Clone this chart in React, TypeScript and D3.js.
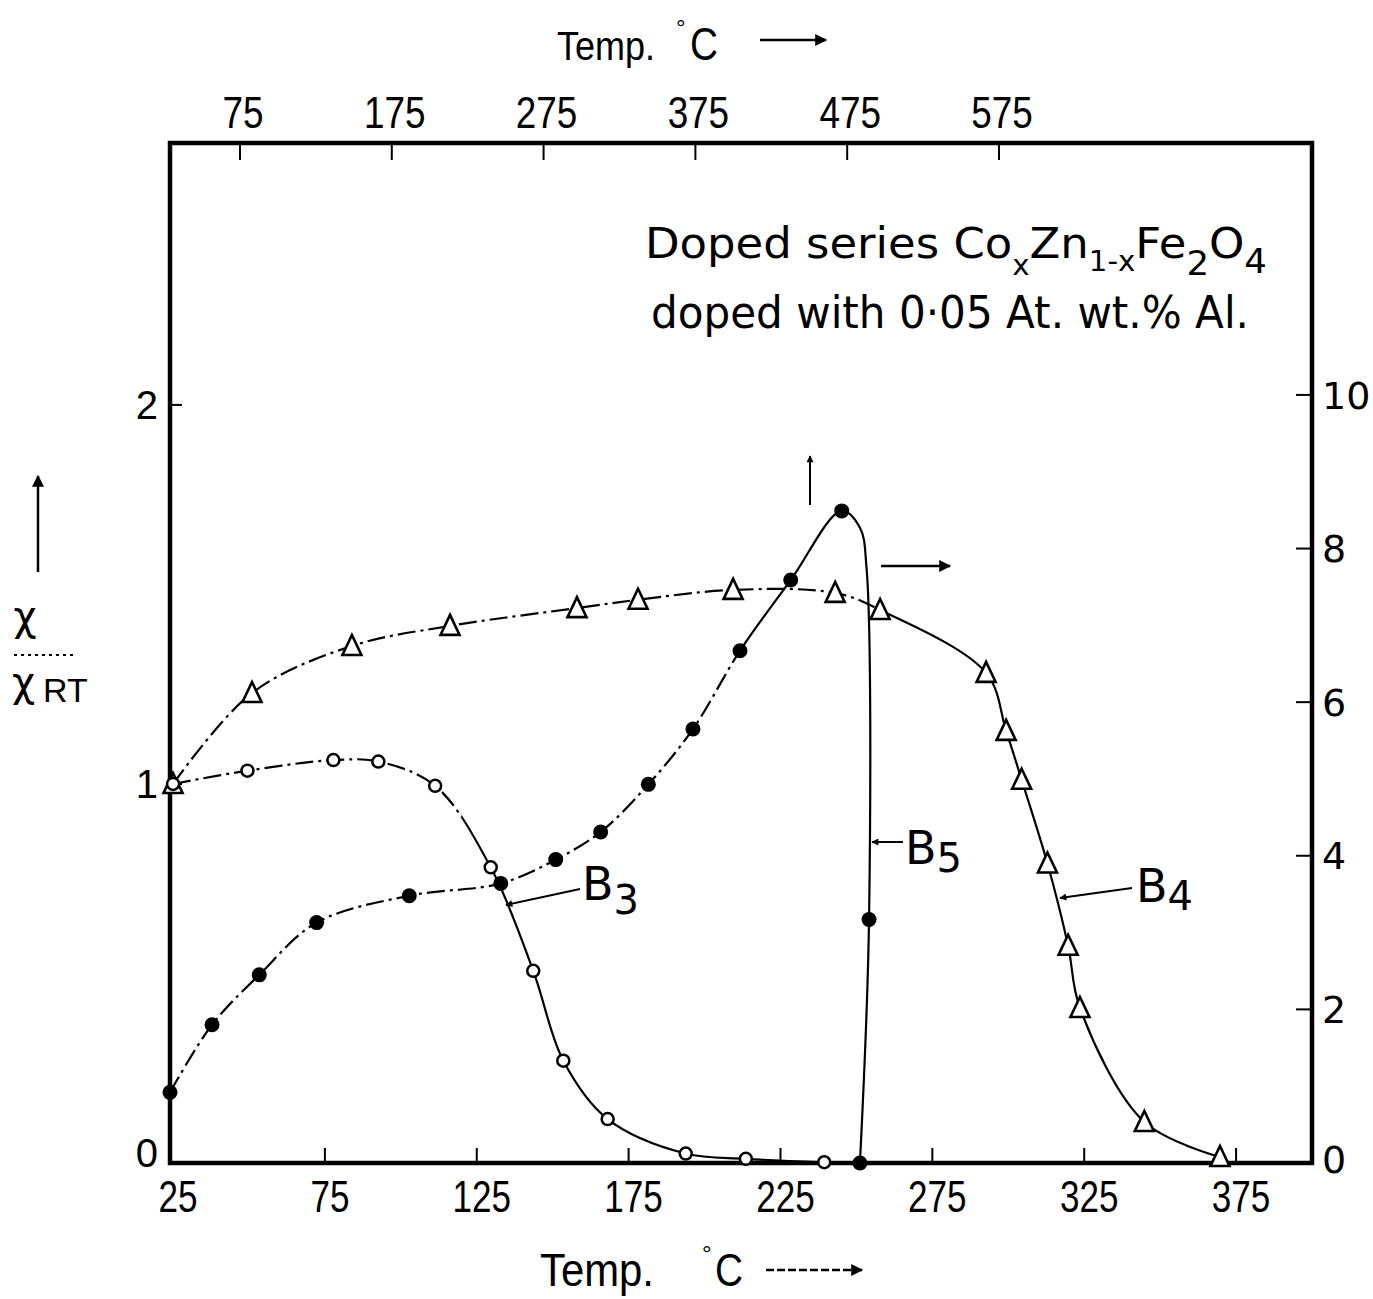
import React, { useRef, useEffect } from 'react';
import * as d3 from 'd3';

// B3 (open circles): bottom temperature axis, left chi/chiRT axis
const b3Temp = [25, 49.5, 77.8, 92.6, 111.3, 129.6, 143.6, 153.5, 168.1, 193.8, 213.6, 239.4];
const b3Chi = [1.0, 1.035, 1.063, 1.059, 0.995, 0.78, 0.507, 0.27, 0.116, 0.025, 0.011, 0.002];

// B4 (triangles): bottom / left
const b4Temp = [25, 51.0, 83.9, 116.2, 158.0, 178.1, 209.4, 243.0, 257.8, 292.7, 299.3, 304.4, 312.9, 319.7, 323.6, 344.8, 369.7];
const b4Chi = [1.0, 1.24, 1.364, 1.417, 1.464, 1.486, 1.512, 1.504, 1.459, 1.293, 1.14, 1.011, 0.79, 0.573, 0.409, 0.108, 0.016];

// B5 (filled circles): top temperature axis, right axis
const b5Temp = [28.9, 56.6, 87.7, 125.5, 186.5, 246.8, 283, 312.6, 344, 373.4, 404.4, 437.8, 471.4, 489.4, 483.4];
const b5Chi = [0.92, 1.8, 2.45, 3.13, 3.48, 3.64, 3.95, 4.31, 4.93, 5.65, 6.67, 7.59, 8.49, 3.17, 0];
// points read along the drawn B5 curve just after the peak (no marker)
const b5KneeTemp = [483.4, 487.7];
const b5KneeChi = [8.27, 7.76];

const bottomTicks = [25, 75, 125, 175, 225, 275, 325, 375];
const topTicks = [75, 175, 275, 375, 475, 575];
const leftTicks = [0, 1, 2];
const rightTicks = [0, 2, 4, 6, 8, 10];

const W = 1373, H = 1299;
const L = 170, R = 1312, T = 143, B = 1163;

const NARROW = "'Liberation Sans', Arial, sans-serif";
const ROUND = "'DejaVu Sans', 'Noto Sans', sans-serif";

export default function App() {
  const svgRef = useRef<SVGSVGElement>(null);

  useEffect(() => {
    const svg = d3.select(svgRef.current);
    svg.selectAll('*').remove();

    const xB = d3.scaleLinear().domain([24, 400]).range([L, R]);
    const xT = d3.scaleLinear().domain([28.9, 781.2]).range([L, R]);
    const yL = d3.scaleLinear().domain([0, 2.691]).range([B, T]);
    const yR = d3.scaleLinear().domain([0, 13.28]).range([B, T]);

    const defs = svg.append('defs');
    defs.append('marker')
      .attr('id', 'head')
      .attr('viewBox', '0 0 10 10')
      .attr('refX', 9).attr('refY', 5)
      .attr('markerWidth', 8).attr('markerHeight', 7)
      .attr('markerUnits', 'userSpaceOnUse')
      .attr('orient', 'auto')
      .append('path').attr('d', 'M0,0 L10,5 L0,10 Z').attr('fill', '#000');
    defs.append('marker')
      .attr('id', 'headBig')
      .attr('viewBox', '0 0 10 10')
      .attr('refX', 9).attr('refY', 5)
      .attr('markerWidth', 17).attr('markerHeight', 12)
      .attr('markerUnits', 'userSpaceOnUse')
      .attr('orient', 'auto')
      .append('path').attr('d', 'M0,0 L10,5 L0,10 Z').attr('fill', '#000');

    // clip halves for dash-dot / solid parts of each curve
    const clip = (id, x0, x1) => {
      defs.append('clipPath').attr('id', id)
        .append('rect').attr('x', x0).attr('y', 0).attr('width', x1 - x0).attr('height', H);
    };

    const line = d3.line().curve(d3.curveCatmullRom.alpha(0.5));

    const b3Pts = b3Temp.map((t, i) => [xB(t), yL(b3Chi[i])]);
    const b4Pts = b4Temp.map((t, i) => [xB(t), yL(b4Chi[i])]);
    const b5Pts = b5Temp.map((t, i) => [xT(t), yR(b5Chi[i])]);
    const kneePts = b5KneeTemp.map((t, i) => [xT(t), yR(b5KneeChi[i])]);
    const b5Line = [...b5Pts.slice(0, 13), ...kneePts, ...b5Pts.slice(13)];

    const curves = [
      { id: 'b3', pts: b3Pts, split: xB(120) },
      { id: 'b4', pts: b4Pts, split: xB(258) },
      { id: 'b5', pts: b5Line, split: xT(404) },
    ];

    curves.forEach(c => {
      clip(c.id + 'a', 0, c.split);
      clip(c.id + 'b', c.split, W);
      svg.append('path')
        .attr('d', line(c.pts))
        .attr('fill', 'none').attr('stroke', '#000').attr('stroke-width', 2.2)
        .attr('stroke-dasharray', '18 5 3 5')
        .attr('clip-path', `url(#${c.id}a)`);
      svg.append('path')
        .attr('d', line(c.pts))
        .attr('fill', 'none').attr('stroke', '#000').attr('stroke-width', 2.2)
        .attr('clip-path', `url(#${c.id}b)`);
    });

    // frame
    svg.append('rect')
      .attr('x', L).attr('y', T).attr('width', R - L).attr('height', B - T)
      .attr('fill', 'none').attr('stroke', '#000').attr('stroke-width', 4.5);

    const g = svg.append('g').attr('stroke', '#000').attr('stroke-width', 2);
    bottomTicks.slice(1).forEach(v => {
      g.append('line').attr('x1', xB(v)).attr('x2', xB(v)).attr('y1', B).attr('y2', B - 15);
    });
    topTicks.forEach(v => {
      g.append('line').attr('x1', xT(v)).attr('x2', xT(v)).attr('y1', T).attr('y2', T + 17);
    });
    leftTicks.slice(1).forEach(v => {
      g.append('line').attr('x1', L).attr('x2', L + 12).attr('y1', yL(v)).attr('y2', yL(v));
    });
    rightTicks.slice(1).forEach(v => {
      g.append('line').attr('x1', R).attr('x2', R - 16).attr('y1', yR(v)).attr('y2', yR(v));
    });

    // tick labels
    svg.append('g').selectAll('text').data(bottomTicks).enter().append('text')
      .attr('x', d => xB(d) + 5).attr('y', 1212)
      .attr('text-anchor', 'middle')
      .attr('textLength', d => String(d).length * 19.5)
      .attr('lengthAdjust', 'spacingAndGlyphs')
      .style('font-family', NARROW).style('font-size', '44px')
      .text(d => d);
    svg.append('g').selectAll('text').data(topTicks).enter().append('text')
      .attr('x', d => xT(d) + 3).attr('y', 128)
      .attr('text-anchor', 'middle')
      .attr('textLength', d => String(d).length * 20.5)
      .attr('lengthAdjust', 'spacingAndGlyphs')
      .style('font-family', NARROW).style('font-size', '45px')
      .text(d => d);
    svg.append('g').selectAll('text').data(leftTicks).enter().append('text')
      .attr('x', 158).attr('y', d => (d === 0 ? yL(d) - 10 : yL(d)))
      .attr('dy', '0.36em')
      .attr('text-anchor', 'end')
      .style('font-family', NARROW).style('font-size', '40px')
      .text(d => d);
    svg.append('g').selectAll('text').data(rightTicks).enter().append('text')
      .attr('x', 1322).attr('y', d => (d === 0 ? yR(d) - 4 : yR(d)))
      .attr('dy', '0.36em')
      .style('font-family', ROUND).style('font-size', '38px')
      .text(d => d);

    // markers
    svg.append('g').selectAll('path').data(b4Pts).enter().append('path')
      .attr('transform', d => `translate(${d[0]},${d[1]})`)
      .attr('d', 'M0,-11 L9.5,9 L-9.5,9 Z')
      .attr('fill', '#fff').attr('stroke', '#000').attr('stroke-width', 2.6)
      .attr('stroke-linejoin', 'miter');
    svg.append('g').selectAll('circle').data(b3Pts).enter().append('circle')
      .attr('cx', d => d[0]).attr('cy', d => d[1]).attr('r', 6)
      .attr('fill', '#fff').attr('stroke', '#000').attr('stroke-width', 2.5);
    svg.append('g').selectAll('circle').data(b5Pts).enter().append('circle')
      .attr('cx', d => d[0]).attr('cy', d => d[1]).attr('r', 7.5)
      .attr('fill', '#000');

    // annotation
    const ann = svg.append('text')
      .attr('x', 645).attr('y', 258)
      .attr('textLength', 622).attr('lengthAdjust', 'spacingAndGlyphs')
      .style('font-family', ROUND).style('font-size', '43px');
    ann.append('tspan').text('Doped series Co');
    ann.append('tspan').attr('dy', 17).style('font-size', '28px').text('x');
    ann.append('tspan').attr('dy', -17).text('Zn');
    ann.append('tspan').attr('dy', 13).style('font-size', '28px').text('1-x');
    ann.append('tspan').attr('dy', -13).text('Fe');
    ann.append('tspan').attr('dy', 17).style('font-size', '34px').text('2');
    ann.append('tspan').attr('dy', -17).text('O');
    ann.append('tspan').attr('dy', 15).style('font-size', '34px').text('4');

    svg.append('text')
      .attr('x', 651).attr('y', 328)
      .attr('textLength', 598).attr('lengthAdjust', 'spacingAndGlyphs')
      .style('font-family', ROUND).style('font-size', '44px')
      .text('doped with 0·05 At. wt.% Al.');

    // curve labels
    const label = (x, y, main, sub, dy) => {
      const t = svg.append('text').attr('x', x).attr('y', y)
        .style('font-family', ROUND).style('font-size', '46px');
      t.append('tspan').text(main);
      t.append('tspan').attr('dy', dy).style('font-size', '40px').text(sub);
    };
    label(582, 900, 'B', '3', 14);
    label(905, 864, 'B', '5', 8);
    label(1136, 902, 'B', '4', 8);

    const arrow = (x1, y1, x2, y2, w = 2, big = false, dash = null) => {
      svg.append('line')
        .attr('x1', x1).attr('y1', y1).attr('x2', x2).attr('y2', y2)
        .attr('stroke', '#000').attr('stroke-width', w)
        .attr('stroke-dasharray', dash)
        .attr('marker-end', big ? 'url(#headBig)' : 'url(#head)');
    };
    arrow(580, 889, 506, 905);
    arrow(903, 842, 872, 842);
    arrow(1132, 888, 1060, 898);
    arrow(810, 505, 810, 456);
    arrow(881, 566, 950, 566, 2.5, true);

    // axis titles: "Temp." then a raised degree sign just ahead of "C"
    const title = (x, y, size, len, degX, cX) => {
      svg.append('text').attr('x', x).attr('y', y)
        .attr('textLength', len).attr('lengthAdjust', 'spacingAndGlyphs')
        .style('font-family', NARROW).style('font-size', `${size}px`)
        .text('Temp.');
      svg.append('text').attr('x', degX).attr('y', y - 24)
        .style('font-family', NARROW).style('font-size', '24px')
        .text('°');
      svg.append('text').attr('x', cX).attr('y', y)
        .attr('textLength', 28).attr('lengthAdjust', 'spacingAndGlyphs')
        .style('font-family', NARROW).style('font-size', '46px')
        .text('C');
    };
    title(557, 60, 41, 98, 676, 690);
    arrow(760, 40, 826, 40, 2.5, true);
    title(540, 1286, 46, 114, 702, 715);
    arrow(766, 1270, 862, 1270, 2.5, true, '8 3');

    // left axis title
    arrow(38, 572, 38, 476, 2.5, true);
    svg.append('text').attr('x', 25).attr('y', 630).attr('text-anchor', 'middle')
      .style('font-family', ROUND).style('font-size', '40px').text('χ');
    svg.append('line').attr('x1', 14).attr('x2', 77).attr('y1', 655).attr('y2', 655)
      .attr('stroke', '#000').attr('stroke-width', 2).attr('stroke-dasharray', '3 4');
    const xrt = svg.append('text').attr('x', 12).attr('y', 696)
      .style('font-family', ROUND).style('font-size', '40px');
    xrt.append('tspan').text('χ');
    xrt.append('tspan').attr('dx', 8).attr('dy', 6).style('font-family', NARROW).style('font-size', '34px').text('RT');
  }, []);

  return (
    <svg
      ref={svgRef}
      width={W}
      height={H}
      style={{ position: 'absolute', left: 0, top: 0, background: '#fff' }}
    />
  );
}
